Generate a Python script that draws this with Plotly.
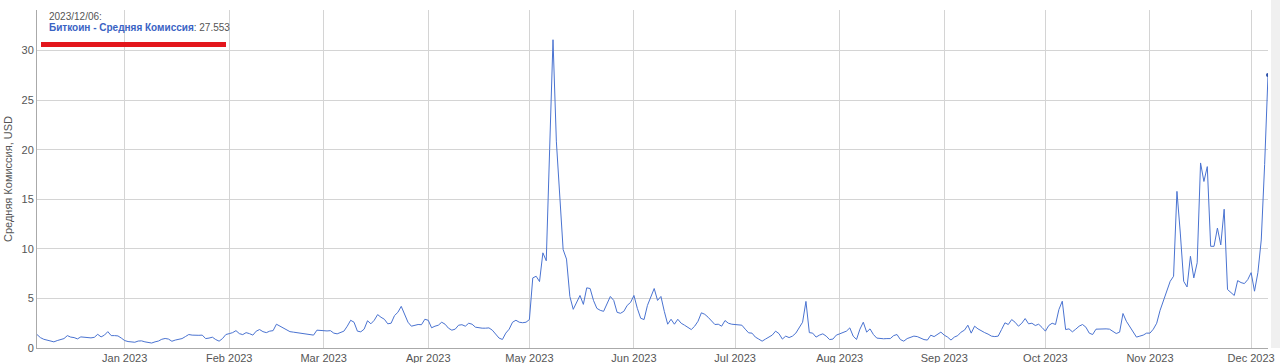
import pandas as pd
import plotly.graph_objects as go

start_date = "2022-12-06"
series_name = "Биткоин - Средняя Комиссия"
y_title = "Средняя Комиссия, USD"
header_date = "2023/12/06:"

fee_2022_12 = [1.36, 1.05, 0.88, 0.80, 0.75, 0.62, 0.75, 0.85, 0.95, 1.25, 1.10, 1.05, 0.92,
               1.12, 1.08, 1.00, 1.02, 1.08, 1.38, 1.12, 1.30, 1.65, 1.25, 1.25, 1.22, 1.00]
fee_2023_01 = [0.75, 0.65, 0.62, 0.58, 0.70, 0.72, 0.62, 0.55, 0.50, 0.62, 0.70, 0.88, 0.96,
               0.90, 0.68, 0.80, 0.86, 0.95, 1.15, 1.36, 1.30, 1.26, 1.28, 1.30, 0.95, 1.00,
               1.09, 0.85, 0.69, 0.95, 1.36]
fee_2023_02 = [1.45, 1.55, 1.75, 1.45, 1.35, 1.55, 1.45, 1.30, 1.70, 1.86, 1.65, 1.55, 1.70,
               1.75, 2.40, 2.20, 2.00, 1.85, 1.65, 1.60, 1.55, 1.55, 1.50, 1.45, 1.40, 1.30,
               1.80, 1.75]
fee_2023_03 = [1.70, 1.72, 1.75, 1.50, 1.43, 1.55, 1.70, 2.20, 2.80, 2.60, 1.70, 1.63, 1.90,
               2.75, 2.44, 2.80, 3.37, 3.10, 2.90, 2.44, 2.50, 3.27, 3.60, 4.20, 3.30, 2.60,
               2.20, 2.30, 2.37, 2.35, 2.90]
fee_2023_04 = [2.80, 2.04, 2.20, 2.30, 2.60, 2.40, 2.00, 1.80, 1.90, 2.30, 2.35, 2.20, 2.50,
               2.40, 2.10, 2.03, 2.00, 2.00, 2.03, 1.80, 1.40, 1.00, 0.86, 1.50, 1.90, 2.60,
               2.80, 2.60, 2.55, 2.60]
fee_2023_05 = [2.87, 7.07, 7.24, 6.70, 9.60, 8.80, 20.0, 31.1, 20.8, 15.3, 9.93, 8.97, 5.20,
               3.90, 4.60, 5.30, 4.40, 6.07, 6.00, 4.80, 4.00, 3.80, 3.70, 4.50, 5.20, 4.80,
               3.60, 3.50, 3.70, 4.30, 4.60]
fee_2023_06 = [5.30, 4.00, 3.00, 2.87, 4.30, 5.20, 6.00, 4.80, 5.20, 3.70, 2.40, 2.90, 2.40,
               2.90, 2.50, 2.30, 2.10, 1.86, 2.20, 2.70, 3.55, 3.40, 3.10, 2.70, 2.37, 2.40,
               2.20, 2.77, 2.50, 2.40]
fee_2023_07 = [2.37, 2.35, 2.30, 1.90, 1.53, 1.50, 1.10, 0.90, 0.69, 0.90, 1.10, 1.30, 1.70,
               1.45, 0.90, 1.20, 1.05, 1.20, 1.50, 2.00, 2.60, 4.70, 1.55, 1.50, 1.10, 1.30,
               1.43, 1.20, 0.85, 0.90, 1.30]
fee_2023_08 = [1.43, 1.53, 1.70, 2.03, 1.20, 0.86, 1.90, 2.60, 1.60, 1.93, 1.36, 1.00, 0.93,
               0.93, 0.95, 0.95, 1.25, 1.36, 0.85, 0.69, 0.95, 1.05, 1.20, 1.15, 1.00, 0.85,
               0.80, 1.29, 1.15, 1.36, 1.60]
fee_2023_09 = [1.30, 1.10, 0.80, 1.10, 1.25, 1.60, 1.80, 2.30, 1.50, 2.20, 1.93, 1.70, 1.55,
               1.40, 1.20, 1.15, 1.20, 1.86, 2.54, 2.37, 2.87, 2.60, 2.20, 2.50, 2.97, 2.44,
               2.50, 2.27, 2.40, 2.07]
fee_2023_10 = [1.70, 2.27, 2.50, 2.37, 3.88, 4.72, 1.86, 1.93, 1.63, 1.90, 2.20, 2.37, 2.10,
               1.50, 1.36, 1.90, 1.93, 1.90, 1.93, 1.90, 1.70, 1.46, 1.60, 3.48, 2.70, 2.20,
               1.60, 1.10, 1.20, 1.30, 1.50]
fee_2023_11 = [1.50, 1.90, 2.50, 3.80, 4.80, 5.73, 6.73, 7.24, 15.8, 11.6, 6.73, 6.16, 9.25,
               7.07, 8.60, 18.67, 16.8, 18.3, 10.26, 10.26, 12.1, 10.4, 14.0, 5.90, 5.60,
               5.30, 6.80, 6.60, 6.50, 6.90]
fee_2023_12 = [7.60, 5.73, 7.60, 10.9, 18.5, 27.553]

fees = (fee_2022_12 + fee_2023_01 + fee_2023_02 + fee_2023_03 + fee_2023_04 + fee_2023_05
        + fee_2023_06 + fee_2023_07 + fee_2023_08 + fee_2023_09 + fee_2023_10 + fee_2023_11
        + fee_2023_12)
dates = pd.date_range(start_date, periods=len(fees), freq="D")

line_color = "#4a73d1"
font_family = "Liberation Sans, Arial, sans-serif"

fig = go.Figure()
fig.add_trace(go.Scatter(x=dates, y=fees, mode="lines",
                         line=dict(color=line_color, width=1), name=series_name,
                         hoverinfo="x+y"))
fig.add_trace(go.Scatter(x=[dates[-1]], y=[fees[-1]], mode="markers",
                         marker=dict(color="#2a4fa8", size=4), showlegend=False))

fig.update_layout(
    width=1280, height=363,
    margin=dict(l=37, r=12, t=10, b=15),
    paper_bgcolor="white", plot_bgcolor="white",
    showlegend=False,
    font=dict(family=font_family, size=11, color="#555555"),
)
fig.update_xaxes(
    range=[dates[0], dates[-1]], automargin=False,
    tick0="2023-01-01", dtick="M1", tickformat="%b %Y",
    showgrid=True, gridcolor="#d4d4d4", gridwidth=1,
    showline=True, linecolor="#aaaaaa", linewidth=1,
    ticks="", ticklen=0, tickfont=dict(size=11, color="#555555"),
    zeroline=False,
)
fig.update_yaxes(
    range=[0, 34.1], tick0=0, dtick=5, automargin=False,
    showgrid=True, gridcolor="#d4d4d4", gridwidth=1,
    showline=True, linecolor="#aaaaaa", linewidth=1,
    ticks="", tickfont=dict(size=11, color="#555555"),
    zeroline=False,
    title=dict(text=y_title, font=dict(size=11, color="#555555"), standoff=6),
)

fig.add_annotation(xref="paper", yref="paper", x=0, y=1, xanchor="left", yanchor="top",
                   xshift=10, yshift=1, showarrow=False, align="left",
                   text=header_date, font=dict(size=10, color="#555555"))
fig.add_annotation(xref="paper", yref="paper", x=0, y=1, xanchor="left", yanchor="top",
                   xshift=10, yshift=-10, showarrow=False, align="left",
                   text=f"<b><span style='color:#3a63c4'>{series_name}</span></b>: {fees[-1]}",
                   font=dict(size=10, color="#555555"))

plot_w = 1280 - 37 - 12
plot_h = 363 - 10 - 15
fig.add_shape(type="line", xref="paper", yref="paper",
              x0=(41 - 37) / plot_w, x1=(226 - 37) / plot_w,
              y0=(348 - 44.5) / plot_h, y1=(348 - 44.5) / plot_h,
              line=dict(color="#e3161c", width=5))
fig.add_shape(type="rect", xref="paper", yref="paper", layer="above",
              x0=(1271 - 37) / plot_w, x1=(1281 - 37) / plot_w,
              y0=0, y1=(348 + 2) / plot_h,
              line=dict(width=0), fillcolor="#f0f0f0")

fig.write_html("out.html")
